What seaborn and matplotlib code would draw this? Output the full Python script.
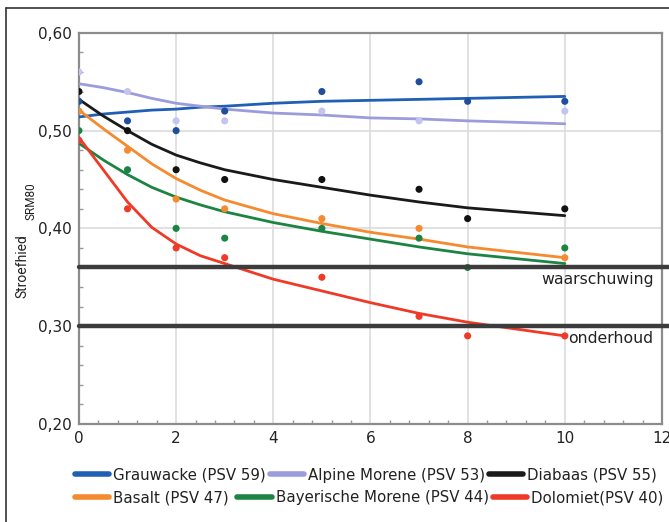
import numpy as np
import pandas as pd
import matplotlib
matplotlib.use("Agg")
import matplotlib.pyplot as plt
import seaborn as sns
from matplotlib.lines import Line2D
from matplotlib.ticker import MultipleLocator, FuncFormatter

# ── data ──
series = [
    "Grauwacke (PSV 59)", "Alpine Morene (PSV 53)", "Diabaas (PSV 55)",
    "Basalt (PSV 47)", "Bayerische Morene (PSV 44)", "Dolomiet(PSV 40)",
]
line_colors = ["#1f5fb4", "#9c9cdc", "#1a1a1a", "#f58a2e", "#1c8443", "#ee3a26"]
point_colors = ["#1f4f9c", "#c4c4f0", "#111111", "#f58a2e", "#1c8443", "#ee3a26"]

days = [0, 1, 2, 3, 5, 7, 8, 10]
grauwacke = [0.53, 0.51, 0.50, 0.52, 0.54, 0.55, 0.53, 0.53]
alpine = [0.56, 0.54, 0.51, 0.51, 0.52, 0.51, np.nan, 0.52]
diabaas = [0.54, 0.50, 0.46, 0.45, 0.45, 0.44, 0.41, 0.42]
basalt = [0.52, 0.48, 0.43, 0.42, 0.41, 0.40, np.nan, 0.37]
bayerische = [0.50, 0.46, 0.40, 0.39, 0.40, 0.39, 0.36, 0.38]
dolomiet = [0.49, 0.42, 0.38, 0.37, 0.35, 0.31, 0.29, 0.29]

# trend lines as drawn in the chart
trend_x = [0, 0.5, 1, 1.5, 2, 2.5, 3, 4, 5, 6, 7, 8, 10]
trend_grauwacke = [0.514, 0.517, 0.519, 0.521, 0.522, 0.524, 0.525, 0.528, 0.530, 0.531, 0.532, 0.533, 0.535]
trend_alpine = [0.548, 0.544, 0.539, 0.533, 0.528, 0.525, 0.522, 0.518, 0.516, 0.513, 0.512, 0.510, 0.507]
trend_diabaas = [0.532, 0.515, 0.500, 0.486, 0.475, 0.467, 0.460, 0.450, 0.442, 0.434, 0.427, 0.421, 0.413]
trend_basalt = [0.521, 0.502, 0.484, 0.466, 0.451, 0.439, 0.429, 0.415, 0.405, 0.396, 0.389, 0.381, 0.370]
trend_bayerische = [0.487, 0.470, 0.455, 0.442, 0.432, 0.424, 0.417, 0.406, 0.397, 0.389, 0.381, 0.374, 0.364]
trend_dolomiet = [0.493, 0.460, 0.427, 0.401, 0.384, 0.372, 0.364, 0.348, 0.336, 0.324, 0.313, 0.304, 0.290]

limits = {"waarschuwing": 0.36, "onderhoud": 0.30}

points = [grauwacke, alpine, diabaas, basalt, bayerische, dolomiet]
trends = [trend_grauwacke, trend_alpine, trend_diabaas, trend_basalt,
          trend_bayerische, trend_dolomiet]

df_pts = pd.concat([
    pd.DataFrame({"dag": days, "srm": vals, "gesteente": name})
    for name, vals in zip(series, points)
]).dropna()
df_trend = pd.concat([
    pd.DataFrame({"dag": trend_x, "srm": vals, "gesteente": name})
    for name, vals in zip(series, trends)
])

# ── plot ──
sns.set_style("white")
plt.rcParams["font.family"] = ["DejaVu Sans"]

fig = plt.figure(figsize=(6.69, 5.22), dpi=100)
ax = fig.add_axes([0.118, 0.188, 0.8715, 0.749])

ax.grid(True, color="#dcdcdc", linewidth=1.2, zorder=0)
ax.set_axisbelow(True)

sns.lineplot(data=df_trend, x="dag", y="srm", hue="gesteente",
             palette=dict(zip(series, line_colors)), linewidth=2,
             errorbar=None, legend=False, ax=ax, zorder=3)
sns.scatterplot(data=df_pts, x="dag", y="srm", hue="gesteente",
                palette=dict(zip(series, point_colors)), s=26,
                edgecolor="none", legend=False, ax=ax, zorder=4)

for label, val in limits.items():
    ax.plot([0, 12.15], [val, val], color="#3c3c3c", linewidth=3.2,
            clip_on=False, zorder=5)
ax.text(11.83, 0.348, "waarschuwing", ha="right", va="center", fontsize=11.3,
        color="#222222", zorder=6)
ax.text(10.07, 0.2875, "onderhoud", ha="left", va="center", fontsize=11.3,
        color="#222222", zorder=6)

ax.set_xlim(0, 12)
ax.set_ylim(0.20, 0.60)
ax.xaxis.set_major_locator(MultipleLocator(2))
ax.xaxis.set_minor_locator(MultipleLocator(0.4))
ax.yaxis.set_major_locator(MultipleLocator(0.1))
ax.yaxis.set_minor_locator(MultipleLocator(0.02))
ax.yaxis.set_major_formatter(FuncFormatter(lambda v, p: f"{v:.2f}".replace(".", ",")))
ax.tick_params(which="major", length=0, labelsize=11, pad=5, labelcolor="#222222")
ax.tick_params(which="minor", direction="in", length=3, width=1, color="#999999")
ax.tick_params(axis="x", which="minor", bottom=True)
ax.tick_params(axis="y", which="minor", left=True)

for sp in ax.spines.values():
    sp.set_color("#8c8c8c")
    sp.set_linewidth(1.6)

ax.set_xlabel("")
ax.set_ylabel("")
# y label with a large subscript, as in the original
fig.text(22 / 669, 1 - 298 / 522, "Stroefhied", rotation=90, ha="center",
         va="bottom", fontsize=10, family="Roboto", color="#222222")
fig.text(31 / 669, 1 - 220 / 522, "SRM80", rotation=90, ha="center",
         va="bottom", fontsize=8.5, family="Roboto", color="#222222")

# legend: one row per legend, entries flow left to right like the original
rows = [([0, 1, 2], [s for s in series[:3]]),
        ([3, 4, 5], [series[3] + " ", series[4], series[5]])]
for (idx, labels), y in zip(rows, [0.090, 0.046]):
    handles = [Line2D([], [], color=line_colors[i], linewidth=4) for i in idx]
    leg = fig.legend(handles, labels, ncol=3, loc="center left",
                     bbox_to_anchor=(0.112, y), frameon=False, fontsize=10.8,
                     handlelength=2.3, handletextpad=0.25, columnspacing=0.25,
                     borderpad=0, borderaxespad=0)
    for t in leg.get_texts():
        t.set_color("#222222")

# figure frame (left and top edge)
fig.add_artist(Line2D([0.009, 0.009], [0, 0.985], color="#333333", linewidth=1.2))
fig.add_artist(Line2D([0.009, 1.0], [0.985, 0.985], color="#333333", linewidth=1.2))

fig.savefig("out.png", dpi=100)
